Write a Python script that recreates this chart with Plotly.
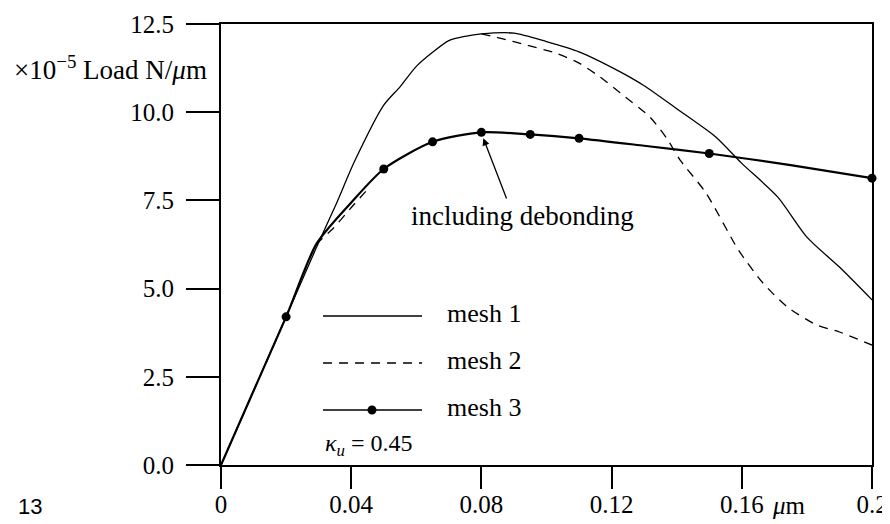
import plotly.graph_objects as go

# ---- data ----
mesh1_x = [0, 0.02, 0.029, 0.0355, 0.041, 0.05, 0.055, 0.06, 0.065, 0.07, 0.075, 0.08,
           0.09, 0.10, 0.11, 0.1225, 0.13, 0.14, 0.152, 0.16, 0.171, 0.18, 0.19, 0.2]
mesh1_y = [0, 4.2, 6.1, 7.42, 8.6, 10.2, 10.72, 11.3, 11.7, 12.03, 12.15, 12.22,
           12.24, 12.0, 11.71, 11.15, 10.75, 10.1, 9.30, 8.55, 7.6, 6.46, 5.61, 4.68]

mesh2_x = [0, 0.02, 0.0294, 0.0345, 0.0407, 0.0458, None,
           0.08, 0.0857, 0.094, 0.103, 0.110, 0.1164, 0.1226, 0.1318, 0.137, 0.141,
           0.149, 0.159, 0.1665, 0.174, 0.183, 0.190, 0.2]
mesh2_y = [0, 4.2, 6.25, 6.71, 7.37, 7.89, None,
           12.22, 12.1, 11.9, 11.67, 11.39, 11.0, 10.55, 9.86, 9.25, 8.65,
           7.71, 6.09, 5.16, 4.48, 3.97, 3.77, 3.40]

mesh3_x = [0, 0.02, 0.0294, 0.0407, 0.05, 0.065, 0.08, 0.095, 0.11, 0.13, 0.15, 0.175, 0.2]
mesh3_y = [0, 4.2, 6.28, 7.51, 8.39, 9.16, 9.43, 9.37, 9.26, 9.05, 8.83, 8.5, 8.13]

mesh3_marker_x = [0.02, 0.05, 0.065, 0.08, 0.095, 0.11, 0.15, 0.2]
mesh3_marker_y = [4.2, 8.39, 9.16, 9.43, 9.37, 9.26, 8.83, 8.13]

x_ticks = [0, 0.04, 0.08, 0.12, 0.16, 0.2]
x_tick_labels = ["0", "0.04", "0.08", "0.12", "0.16", "0.2"]
y_ticks = [0, 2.5, 5.0, 7.5, 10.0, 12.5]
y_tick_labels = ["0.0", "2.5", "5.0", "7.5", "10.0", "12.5"]

legend_names = ["mesh 1", "mesh 2", "mesh 3"]

# ---- layout geometry (reference pixel coordinates) ----
W, H = 890, 524
OFF = 8                      # page body margin
L, R, T, B = 221, 872, 24, 465
FIG_W, FIG_H = W - OFF, H - OFF
SERIF = "Liberation Serif, Times New Roman, serif"
FS_TICK = 25
FS_TEXT = 26


def px(xp):
    return (xp - L) / (R - L)


def py(yp):
    return (B - yp) / (B - T)


fig = go.Figure()

fig.add_trace(go.Scatter(x=mesh1_x, y=mesh1_y, mode="lines",
                         line=dict(color="black", width=1.3, shape="spline", smoothing=0.7),
                         showlegend=False, hoverinfo="skip"))
fig.add_trace(go.Scatter(x=mesh2_x, y=mesh2_y, mode="lines", connectgaps=False,
                         line=dict(color="black", width=1.3, dash="9px,7px", shape="spline", smoothing=0.7),
                         showlegend=False, hoverinfo="skip"))
fig.add_trace(go.Scatter(x=mesh3_x, y=mesh3_y, mode="lines",
                         line=dict(color="black", width=2.2, shape="spline", smoothing=0.7),
                         showlegend=False, hoverinfo="skip"))
fig.add_trace(go.Scatter(x=mesh3_marker_x, y=mesh3_marker_y, mode="markers",
                         marker=dict(color="black", size=9),
                         showlegend=False, hoverinfo="skip", cliponaxis=False))

shapes = []
annotations = []

# manual legend
leg_y = [316, 363, 410]
dashes = ["solid", "9px,7px", "solid"]
widths = [1.3, 1.3, 1.6]
for name, yy, d, w in zip(legend_names, leg_y, dashes, widths):
    shapes.append(dict(type="line", xref="paper", yref="paper",
                       x0=px(323), x1=px(422), y0=py(yy), y1=py(yy),
                       line=dict(color="black", width=w, dash=d)))
    annotations.append(dict(xref="paper", yref="paper", x=px(445), y=py(yy - 3),
                            xanchor="left", yanchor="middle", showarrow=False,
                            text=name, font=dict(family=SERIF, size=FS_TEXT, color="black")))
shapes.append(dict(type="circle", xref="paper", yref="paper",
                   x0=px(367.5), x1=px(376.5), y0=py(405.5), y1=py(414.5),
                   fillcolor="black", line=dict(color="black", width=0)))

# kappa label
annotations.append(dict(xref="paper", yref="paper", x=px(323), y=py(445),
                        xanchor="left", yanchor="middle", showarrow=False,
                        text="<i>κ<sub>u</sub></i> = 0.45",
                        font=dict(family=SERIF, size=24, color="black")))

# y axis title
annotations.append(dict(xref="paper", yref="paper", x=px(209), y=py(68),
                        xanchor="right", yanchor="middle", showarrow=False,
                        text="×10<sup>−5</sup> Load N/<i>μ</i>m",
                        font=dict(family=SERIF, size=27, color="black")))

# x unit
annotations.append(dict(xref="paper", yref="paper", x=px(789), y=py(505),
                        xanchor="center", yanchor="middle", showarrow=False,
                        text="<i>μ</i>m",
                        font=dict(family=SERIF, size=FS_TICK, color="black")))

# figure number
annotations.append(dict(xref="paper", yref="paper", x=px(30), y=py(506),
                        xanchor="center", yanchor="middle", showarrow=False,
                        text="13",
                        font=dict(family="Liberation Sans, Arial, sans-serif", size=22, color="black")))

# including debonding
annotations.append(dict(xref="paper", yref="paper", x=px(522), y=py(216),
                        xanchor="center", yanchor="middle", showarrow=False,
                        text="including debonding",
                        font=dict(family=SERIF, size=FS_TEXT + 1, color="black")))
annotations.append(dict(xref="x", yref="y", x=0.0806, y=9.26,
                        axref="x", ayref="y", ax=0.0879, ay=7.51,
                        text="", showarrow=True, arrowhead=2, arrowsize=1.1,
                        arrowwidth=1.3, arrowcolor="black", standoff=0))

fig.update_layout(
    width=FIG_W, height=FIG_H,
    margin=dict(l=L - OFF, r=FIG_W - (R - OFF), t=T - OFF, b=FIG_H - (B - OFF), pad=0,
                autoexpand=False),
    paper_bgcolor="white", plot_bgcolor="white",
    shapes=shapes, annotations=annotations,
    font=dict(family=SERIF, size=FS_TICK, color="black"),
)
fig.update_xaxes(range=[0, 0.2], tickvals=x_ticks, ticktext=x_tick_labels,
                 automargin=False,
                 showgrid=False, zeroline=False, showline=True, linecolor="black",
                 linewidth=2, mirror=True, ticks="outside", ticklen=22, tickwidth=2,
                 tickcolor="black", tickfont=dict(family=SERIF, size=FS_TICK, color="black"),
                 ticklabelstandoff=-6)
fig.update_yaxes(range=[0, 12.5], tickvals=y_ticks, ticktext=y_tick_labels,
                 automargin=False,
                 showgrid=False, zeroline=False, showline=True, linecolor="black",
                 linewidth=2, mirror=True, ticks="outside", ticklen=33, tickwidth=2,
                 tickcolor="black", tickfont=dict(family=SERIF, size=FS_TICK, color="black"),
                 ticklabelstandoff=7)

fig.write_html("out.html")
